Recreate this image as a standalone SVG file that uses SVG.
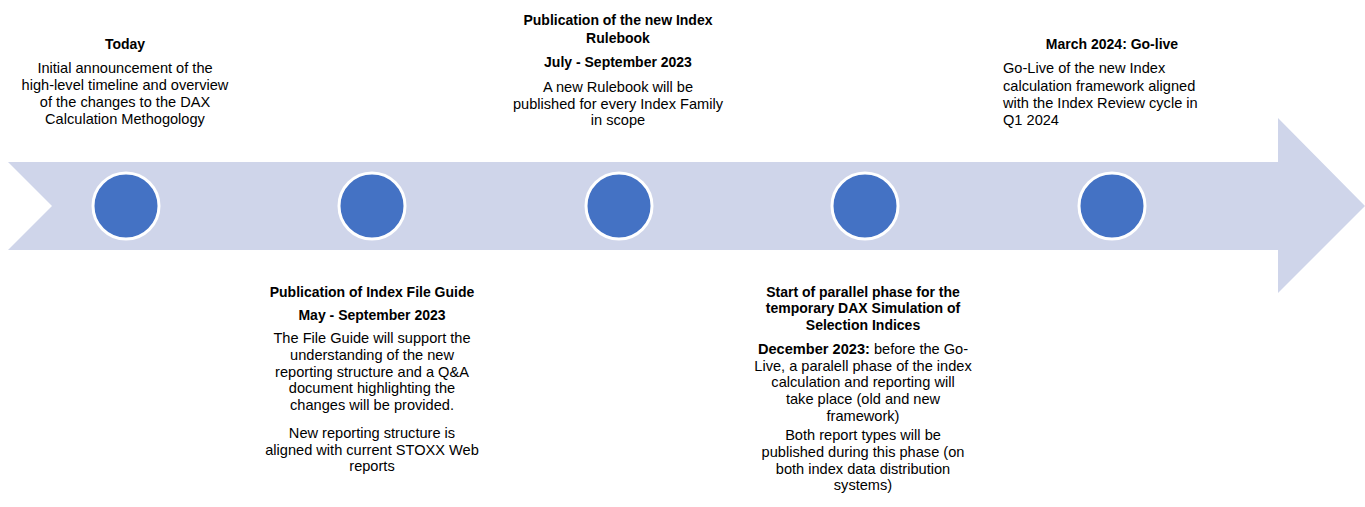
<svg xmlns="http://www.w3.org/2000/svg" width="1365" height="507" viewBox="0 0 1365 507">
<style>
text{font-family:"Liberation Sans",Arial,sans-serif;font-size:14.6px;fill:#000}
.b{font-weight:bold;font-size:14px}
.c{text-anchor:middle}
.dot{fill:#4472C4;stroke:#fff;stroke-width:3}
</style>
<rect width="1365" height="507" fill="#fff"/>
<g id="timeline">
<path d="M8,162 H1278 V118 L1365,206 L1278,293 V250 H8 L52,206 Z" fill="#CFD5EA"/>
</g>
<g id="connectors"></g>
<g id="node-today">
<circle class="dot" cx="126" cy="206" r="33"/>
<text class="b c" x="125" y="49">Today</text>
<text class="c" x="125" y="73">Initial announcement of the</text>
<text class="c" x="125" y="90">high-level timeline and overview</text>
<text class="c" x="125" y="107">of the changes to the DAX</text>
<text class="c" x="125" y="124">Calculation Methogology</text>
</g>
<g id="node-fileguide">
<circle class="dot" cx="372" cy="206" r="33"/>
<text class="b c" x="372" y="297">Publication of Index File Guide</text>
<text class="b c" x="372" y="320">May - September 2023</text>
<text class="c" x="372" y="343">The File Guide will support the</text>
<text class="c" x="372" y="360">understanding of the new</text>
<text class="c" x="372" y="377">reporting structure and a Q&amp;A</text>
<text class="c" x="372" y="393">document highlighting the</text>
<text class="c" x="372" y="410">changes will be provided.</text>
<text class="c" x="372" y="438">New reporting structure is</text>
<text class="c" x="372" y="455">aligned with current STOXX Web</text>
<text class="c" x="372" y="471">reports</text>
</g>
<g id="node-rulebook">
<circle class="dot" cx="619" cy="206" r="33"/>
<text class="b c" x="618" y="25">Publication of the new Index</text>
<text class="b c" x="618" y="43">Rulebook</text>
<text class="b c" x="618" y="67">July - September 2023</text>
<text class="c" x="618" y="92">A new Rulebook will be</text>
<text class="c" x="618" y="109">published for every Index Family</text>
<text class="c" x="618" y="125">in scope</text>
</g>
<g id="node-parallel">
<circle class="dot" cx="865" cy="206" r="33"/>
<text class="b c" x="863" y="297">Start of parallel phase for the</text>
<text class="b c" x="863" y="313">temporary DAX Simulation of</text>
<text class="b c" x="863" y="330">Selection Indices</text>
<text class="c" x="863" y="354"><tspan class="b" style="font-size:14.6px">December 2023:</tspan> before the Go-</text>
<text class="c" x="863" y="371">Live, a paralell phase of the index</text>
<text class="c" x="863" y="387">calculation and reporting will</text>
<text class="c" x="863" y="404">take place (old and new</text>
<text class="c" x="863" y="421">framework)</text>
<text class="c" x="863" y="440">Both report types will be</text>
<text class="c" x="863" y="457">published during this phase (on</text>
<text class="c" x="863" y="474">both index data distribution</text>
<text class="c" x="863" y="490">systems)</text>
</g>
<g id="node-golive">
<circle class="dot" cx="1112" cy="206" r="33"/>
<text class="b c" x="1112" y="49">March 2024: Go-live</text>
<text x="1003" y="73">Go-Live of the new Index</text>
<text x="1003" y="91">calculation framework aligned</text>
<text x="1003" y="108">with the Index Review cycle in</text>
<text x="1003" y="125">Q1 2024</text>
</g>
</svg>
